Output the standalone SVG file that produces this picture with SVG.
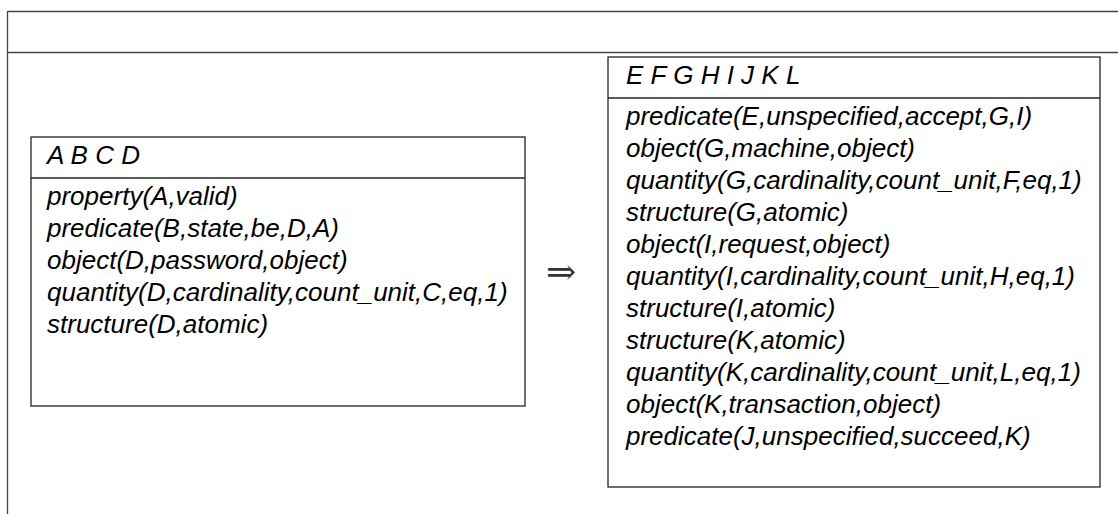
<svg xmlns="http://www.w3.org/2000/svg" width="1118" height="514" viewBox="0 0 1118 514">
<style>
.frame{stroke:#444;stroke-width:1.3;fill:none}
.box{stroke:#222;stroke-width:1.3;fill:#fff}
.hd{font-family:"Liberation Sans",Arial,sans-serif;font-size:26px;font-style:italic;fill:#000}
.tx{font-family:"Liberation Sans",Arial,sans-serif;font-size:26px;font-style:italic;fill:#000}
.arr{font-family:"Liberation Serif","Noto Sans","DejaVu Serif",serif;font-size:36px;fill:#333}
</style>
<rect width="1118" height="514" fill="#fff"/>
<g id="frame">
<path class="frame" d="M7.5,11.5 H1118 M7.5,52.5 H1118 M7.5,11 V514"/>
</g>
<g id="node-left">
<rect class="box" x="31" y="137" width="494" height="269"/>
<line class="box" x1="31" y1="178" x2="525" y2="178"/>
<text class="hd" x="47" y="164">A B C D</text>
<text class="tx" x="47" y="205">property(A,valid)</text>
<text class="tx" x="47" y="237">predicate(B,state,be,D,A)</text>
<text class="tx" x="47" y="269">object(D,password,object)</text>
<text class="tx" x="47" y="301">quantity(D,cardinality,count_unit,C,eq,1)</text>
<text class="tx" x="47" y="333">structure(D,atomic)</text>
</g>
<g id="connectors">
<text class="arr" x="546" y="284">⇒</text>
</g>
<g id="node-right">
<rect class="box" x="608" y="57" width="492" height="430"/>
<line class="box" x1="608" y1="98" x2="1100" y2="98"/>
<text class="hd" x="626" y="84">E F G H I J K L</text>
<text class="tx" x="626" y="125">predicate(E,unspecified,accept,G,I)</text>
<text class="tx" x="626" y="157">object(G,machine,object)</text>
<text class="tx" x="626" y="189">quantity(G,cardinality,count_unit,F,eq,1)</text>
<text class="tx" x="626" y="221">structure(G,atomic)</text>
<text class="tx" x="626" y="253">object(I,request,object)</text>
<text class="tx" x="626" y="285">quantity(I,cardinality,count_unit,H,eq,1)</text>
<text class="tx" x="626" y="317">structure(I,atomic)</text>
<text class="tx" x="626" y="349">structure(K,atomic)</text>
<text class="tx" x="626" y="381">quantity(K,cardinality,count_unit,L,eq,1)</text>
<text class="tx" x="626" y="413">object(K,transaction,object)</text>
<text class="tx" x="626" y="445">predicate(J,unspecified,succeed,K)</text>
</g>
</svg>
